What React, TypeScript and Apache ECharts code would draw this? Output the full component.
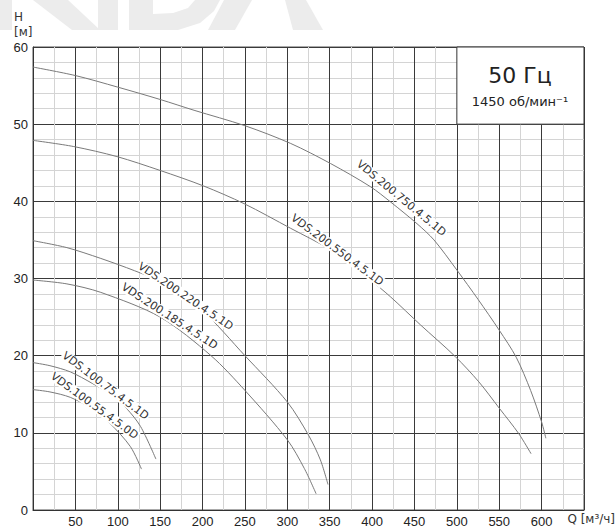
import React, { useEffect, useRef } from "react";
import * as echarts from "echarts";

// Q [m3/h] and H [m]
const q750 = [0, 50, 100, 150, 190, 250, 304, 351, 398, 422, 453, 473, 500, 525, 550, 570, 587, 600, 605];
const h750 = [57.4, 56.3, 54.8, 53.2, 51.8, 49.8, 47.5, 44.9, 41.9, 39.9, 37.1, 35.0, 31.1, 27.3, 23.3, 19.8, 15.5, 11.4, 9.3];

const q550 = [0, 48, 99, 150, 201, 249, 304, 351, 398, 422, 457, 498, 526, 550, 573, 587.5];
const h550 = [47.9, 47.1, 45.8, 44.0, 42.0, 39.7, 36.5, 33.7, 29.8, 27.6, 24.0, 19.9, 16.6, 13.2, 9.9, 7.3];

const q220 = [0, 40, 80, 120, 150, 200, 250, 300, 325, 339, 348];
const h220 = [34.9, 34.0, 32.6, 31.0, 29.6, 25.8, 20.0, 14.0, 9.7, 6.5, 3.3];

const q185 = [0, 40, 80, 150, 210, 250, 300, 320, 334];
const h185 = [29.8, 29.3, 28.2, 25.0, 20.0, 15.5, 9.1, 5.4, 2.1];

const q75 = [0, 20, 44, 70, 91, 110, 127, 145];
const h75 = [19.1, 18.7, 17.9, 16.4, 15.0, 13.2, 10.8, 6.6];

const q55 = [0, 20, 44, 70, 91, 115, 128];
const h55 = [15.6, 15.3, 14.6, 13.1, 11.2, 8.2, 5.3];

const curveNames = [
  "VDS.200.750.4.5.1D",
  "VDS.200.550.4.5.1D",
  "VDS.200.220.4.5.1D",
  "VDS.200.185.4.5.1D",
  "VDS.100.75.4.5.1D",
  "VDS.100.55.4.5.0D",
];
const curveQ = [q750, q550, q220, q185, q75, q55];
const curveH = [h750, h550, h220, h185, h75, h55];
// label anchor (data coords) and angle
const labelQ = [434.6, 359, 180, 161, 85.5, 72.5];
const labelH = [40.4, 33.7, 27.7, 25.1, 16.1, 13.5];
const labelAngle = [-39.6, -36.6, -34, -33, -37, -36];

const xMin = 0, xMax = 650, xLabelStep = 50, xMinorStep = 25;
const yMin = 0, yMax = 60, yLabelStep = 10, yMinorStep = 2;
const boxQ = [500, 650];
const boxH = [50, 60];

const freqText = "50 Гц";
const speedText = "1450 об/мин⁻¹";

export default function App() {
  const ref = useRef<HTMLDivElement>(null);
  useEffect(() => {
    if (!ref.current) return;
    const chart = echarts.init(ref.current, undefined, { renderer: "svg" });
    const font = "DejaVu Sans, Verdana, sans-serif";
    const wm = "#ececec";
    const major = "#3a3a3a";
    const minor = "#d4d4d4";
    const series: any[] = curveNames.map((name, i) => ({
      type: "line",
      name,
      data: curveQ[i].map((q, j) => [q, curveH[i][j]]),
      smooth: 0.3,
      showSymbol: false,
      symbol: "none",
      lineStyle: { color: "#7a7a7a", width: 1 },
      z: 3,
      markPoint: {
        symbol: "circle",
        symbolSize: 0,
        silent: true,
        data: [
          {
            coord: [labelQ[i], labelH[i]],
            label: {
              show: true,
              position: "inside",
              formatter: name,
              rotate: labelAngle[i],
              fontFamily: font,
              fontSize: 11,
              color: "#333",
              backgroundColor: "#fff",
              padding: [0, 1],
            },
          },
        ],
      },
    }));
    series.push({
      type: "line",
      data: [],
      z: 2,
      markArea: {
        silent: true,
        itemStyle: { color: "#fff", borderColor: "#333", borderWidth: 1 },
        data: [[{ coord: [boxQ[0], boxH[1]] }, { coord: [boxQ[1], boxH[0]] }]],
      },
    });

    const xColors = Array.from({ length: xLabelStep / xMinorStep }, (_, i) => (i === 0 ? major : minor));
    const yColors = Array.from({ length: yLabelStep / yMinorStep }, (_, i) => (i === 0 ? major : minor));

    chart.setOption({
      animation: false,
      backgroundColor: "#fff",
      grid: { left: 33, right: 32, top: 47, bottom: 19, show: true, borderColor: "#555", borderWidth: 1 },
      xAxis: {
        type: "value",
        min: xMin,
        max: xMax,
        interval: xMinorStep,
        axisLine: { lineStyle: { color: "#333", width: 1 } },
        axisTick: { show: false },
        axisLabel: {
          fontFamily: "Liberation Sans, Arial, sans-serif",
          fontSize: 13,
          color: "#222",
          margin: 5,
          formatter: (v: number) => (v === xMin || v === xMax || v % xLabelStep !== 0 ? "" : String(v)),
        },
        splitLine: { show: true, lineStyle: { color: xColors, width: 1 } },
      },
      yAxis: {
        type: "value",
        min: yMin,
        max: yMax,
        interval: yMinorStep,
        axisLine: { show: true, lineStyle: { color: "#333", width: 1 } },
        axisTick: { show: false },
        axisLabel: {
          fontFamily: "Liberation Sans, Arial, sans-serif",
          fontSize: 13,
          color: "#222",
          margin: 5,
          formatter: (v: number) => (v % yLabelStep !== 0 ? "" : String(v)),
        },
        splitLine: { show: true, lineStyle: { color: yColors, width: 1 } },
      },
      series,
      graphic: [
        // faint watermark logo at top
        { type: "rect", z: -10, shape: { x: 0, y: 0, width: 12, height: 30 }, style: { fill: wm } },
        { type: "polygon", z: -10, shape: { points: [[33, 0], [68, 0], [100, 30], [72, 30]] }, style: { fill: wm } },
        { type: "rect", z: -10, shape: { x: 98, y: 0, width: 20, height: 30 }, style: { fill: wm } },
        { type: "rect", z: -10, shape: { x: 129, y: 0, width: 24, height: 30 }, style: { fill: wm } },
        {
          type: "polygon",
          z: -10,
          shape: { points: [[153, 30], [178, 30], [200, 23], [214, 11], [220, 0], [195, 0], [188, 8], [173, 13], [153, 14]] },
          style: { fill: wm },
        },
        { type: "polygon", z: -10, shape: { points: [[208, 30], [235, 30], [252, 0], [224, 0]] }, style: { fill: wm } },
        { type: "polygon", z: -10, shape: { points: [[293, 30], [323, 30], [306, 0], [285, 0]] }, style: { fill: wm } },
        // axis names
        {
          type: "text",
          left: 14,
          top: 9,
          z: 100,
          style: { text: "H\n[м]", fontFamily: font, fontSize: 12, fill: "#333", lineHeight: 15, align: "center" },
        },
        {
          type: "text",
          right: 1,
          top: 513,
          z: 100,
          style: { text: "Q [м³/ч]", fontFamily: font, fontSize: 12, fill: "#333" },
        },
        {
          type: "text",
          x: 520,
          y: 75,
          z: 100,
          style: { text: freqText, fontFamily: font, fontSize: 22, fill: "#222", align: "center", verticalAlign: "middle" },
        },
        {
          type: "text",
          x: 520,
          y: 101,
          z: 100,
          style: { text: speedText, fontFamily: font, fontSize: 13, fill: "#222", align: "center", verticalAlign: "middle" },
        },
      ],
    });
    return () => chart.dispose();
  }, []);
  return <div ref={ref} style={{ width: 616, height: 529, position: "absolute", left: 0, top: 0 }} />;
}
